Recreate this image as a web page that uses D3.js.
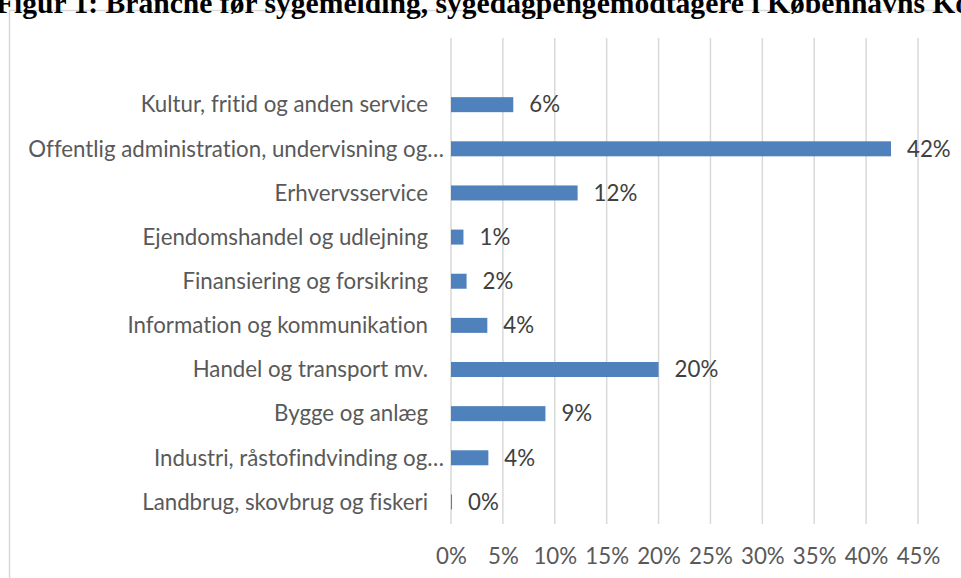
<!DOCTYPE html>
<html><head><meta charset="utf-8">
<script src="https://cdn.jsdelivr.net/npm/d3@7"></script>
<style>body{margin:0;background:#fff}svg{display:block}text{font-variant-ligatures:none;font-feature-settings:"liga" 0}</style>
</head><body>
<script>
const categories = [
  "Kultur, fritid og anden service",
  "Offentlig administration, undervisning og…",
  "Erhvervsservice",
  "Ejendomshandel og udlejning",
  "Finansiering og forsikring",
  "Information og kommunikation",
  "Handel og transport mv.",
  "Bygge og anlæg",
  "Industri, råstofindvinding og…",
  "Landbrug, skovbrug og fiskeri"
];
const values = [6.0, 42.4, 12.2, 1.2, 1.5, 3.5, 20.0, 9.1, 3.6, 0.1];
const valueLabels = ["6%","42%","12%","1%","2%","4%","20%","9%","4%","0%"];
const xTicks = [0,5,10,15,20,25,30,35,40,45];
const title = "Figur 1: Branche før sygemelding, sygedagpengemodtagere i Københavns Kommune";

const W = 961, H = 578;
const FONT = "Lato, Noto Sans, sans-serif";
const svg = d3.select("body").append("svg").attr("width", W).attr("height", H);

// fit font size so the longest label has the reference width
const probe = svg.append("text").attr("font-family", FONT).attr("font-size", 20).text(categories[1]);
const fs = 20 * 416 / probe.node().getComputedTextLength();
probe.remove();

// chart frame
svg.append("rect").attr("x", 9.5).attr("y", 10.5).attr("width", 980).attr("height", 600)
  .attr("fill", "#fff").attr("stroke", "#d9d9d9").attr("stroke-width", 1.5);

// title (cropped at top)
svg.append("text").attr("x", -4).attr("y", 13)
  .attr("font-family", "Liberation Serif, Times New Roman, serif")
  .attr("font-weight", "bold").attr("font-size", 29.6).attr("fill", "#000")
  .text(title);

const x = d3.scaleLinear().domain([0, 45]).range([451, 918]);
const plotTop = 38, plotBottom = 524;
const y = d3.scaleBand().domain(categories).range([82.6, plotBottom]).paddingInner(0.66).paddingOuter(0.33);

// gridlines
svg.append("g").selectAll("line").data(xTicks).join("line")
  .attr("x1", d => x(d)).attr("x2", d => x(d))
  .attr("y1", plotTop).attr("y2", plotBottom)
  .attr("stroke", "#d9d9d9").attr("stroke-width", 1.5);

// x axis labels
const xAxis = d3.axisBottom(x).tickValues(xTicks).tickFormat(d => d + "%").tickSize(0).tickPadding(0);
const gx = svg.append("g").attr("transform", `translate(0,${plotBottom + 24})`).call(xAxis);
gx.select(".domain").remove();
gx.selectAll("text").attr("font-family", FONT).attr("font-size", fs).attr("fill", "#595959");

// bars
svg.append("g").selectAll("rect").data(values).join("rect")
  .attr("x", x(0)).attr("y", (d, i) => y(categories[i]))
  .attr("width", d => x(d) - x(0)).attr("height", y.bandwidth())
  .attr("fill", "#4f81bd");

// value labels
svg.append("g").selectAll("text").data(values).join("text")
  .attr("x", d => x(d) + 16).attr("y", (d, i) => y(categories[i]) + y.bandwidth() / 2)
  .attr("dy", "0.35em")
  .attr("font-family", FONT).attr("font-size", fs).attr("fill", "#404040")
  .text((d, i) => valueLabels[i]);

// category labels
svg.append("g").selectAll("text").data(categories).join("text")
  .attr("x", d => d.endsWith("…") ? 444 : 428)
  .attr("y", d => y(d) + y.bandwidth() / 2).attr("dy", "0.35em")
  .attr("text-anchor", "end")
  .attr("font-family", FONT).attr("font-size", fs).attr("fill", "#595959")
  .text(d => d);
</script>
</body></html>
